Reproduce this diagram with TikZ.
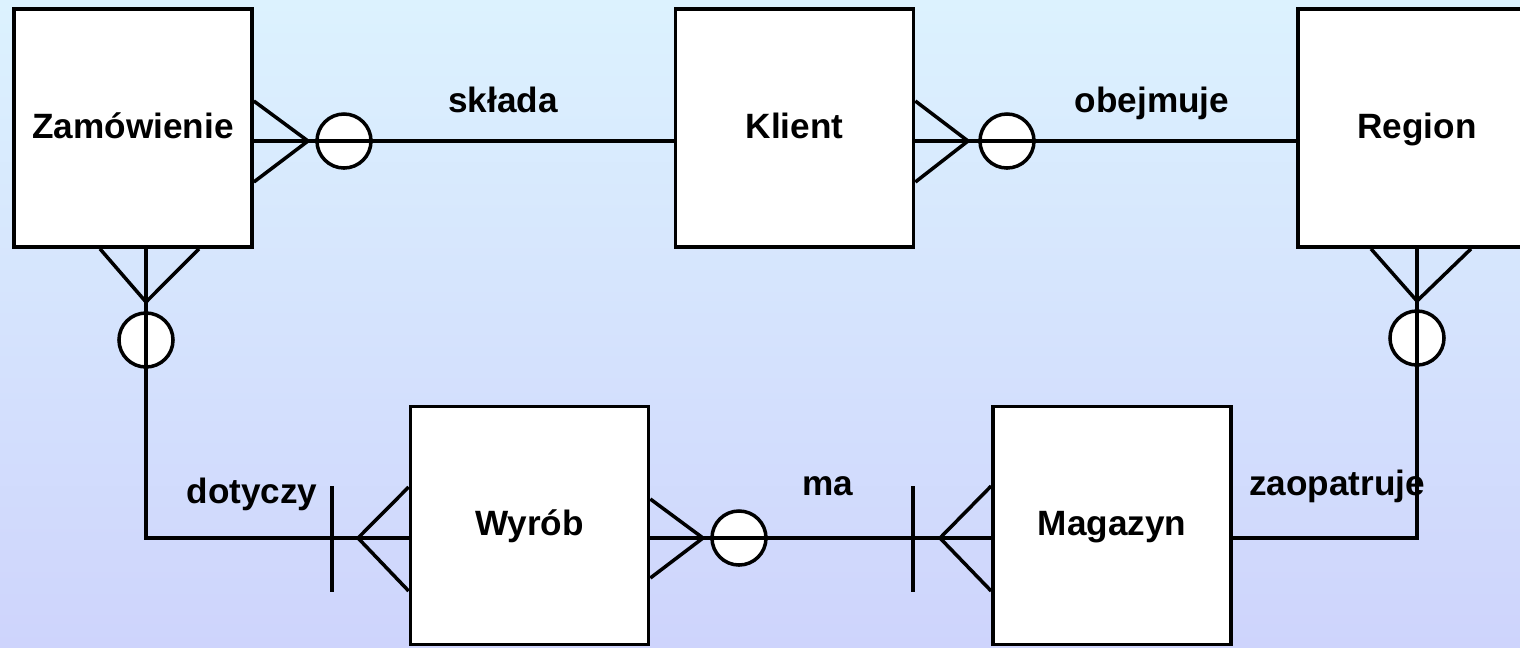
\documentclass[tikz,border=0pt]{standalone}
\usepackage{fontspec}
\setmainfont{Liberation Sans}
\usetikzlibrary{positioning,calc}
\definecolor{bgtop}{RGB}{220,242,254}
\definecolor{bgbottom}{RGB}{206,212,252}

\begin{document}
\begin{tikzpicture}[x=0.01cm,y=-0.01cm,line width=1pt,
  entity/.style={draw,fill=white,minimum width=2.38cm,minimum height=2.38cm,
    font=\fontsize{10}{12}\selectfont\bfseries,text height=0.24cm,text depth=0.04cm},
  optional/.style={circle,draw,fill=white,minimum size=0.54cm,inner sep=0pt},
  rel/.style={anchor=base,font=\fontsize{10}{12}\selectfont\bfseries}
]
% background
\clip (0,0) rectangle (1520,647);
\shade[top color=bgtop,bottom color=bgbottom] (0,0) rectangle (1520,647);

% the entities
\node[entity] (zam) at (133,128) {Zamówienie};
\node[entity] (kli) at (794.5,128) {Klient};
\node[entity] (reg) at (1417,128) {Region};
\node[entity] (wyr) at (529.5,525.5) {Wyrób};
\node[entity] (mag) at (1112,525.5) {Magazyn};

% the optionality circles
\node[optional] (o1) at (344,141) {};
\node[optional] (o2) at (1007,141) {};
\node[optional] (o3) at (146,340) {};
\node[optional] (o4) at (1417,338) {};
\node[optional] (o5) at (739,538) {};

% tips of the crow's feet
\coordinate (t1) at (308,141);
\coordinate (t2) at (968,141);
\coordinate (t3) at (146,302);
\coordinate (t4) at (1417,301);
\coordinate (t5) at (358,538);
\coordinate (t6) at (703,538);
\coordinate (t7) at (940,538);

% the relationships
\draw ($(zam.east)+(0,13)$) -- ($(kli.west)+(0,13)$);
\draw ($(kli.east)+(0,13)$) -- ($(reg.west)+(0,13)$);
\draw ($(zam.south)+(13,0)$) |- ($(wyr.west)+(0,12.5)$);
\draw ($(wyr.east)+(0,12.5)$) -- ($(mag.west)+(0,12.5)$);
\draw ($(mag.east)+(0,12.5)$) -| (reg.south);

% crow's feet
\draw ($(zam.east)+(0,-27)$) -- (t1) -- ($(zam.east)+(0,54)$);
\draw ($(kli.east)+(0,-27)$) -- (t2) -- ($(kli.east)+(0,54)$);
\draw ($(zam.south)+(-33,0)$) -- (t3) -- ($(zam.south)+(66,0)$);
\draw ($(reg.south)+(-46,0)$) -- (t4) -- ($(reg.south)+(54,0)$);
\draw ($(wyr.west)+(0,-38.5)$) -- (t5) -- ($(wyr.west)+(0,65.5)$);
\draw ($(wyr.east)+(0,-26.5)$) -- (t6) -- ($(wyr.east)+(0,52.5)$);
\draw ($(mag.west)+(0,-39.5)$) -- (t7) -- ($(mag.west)+(0,65.5)$);

% the "one" bars
\draw (332,486) -- (332,592);
\draw (913,486) -- (913,592);

% the labels
\node[rel] (l1) at (503,112) {składa};
\node[rel] (l2) at (1152,112) {obejmuje};
\node[rel] (l3) at (252,503) {dotyczy};
\node[rel] (l4) at (828,495) {ma};
\node[rel] (l5) at (1337,495) {zaopatruje};
\end{tikzpicture}
\end{document}
